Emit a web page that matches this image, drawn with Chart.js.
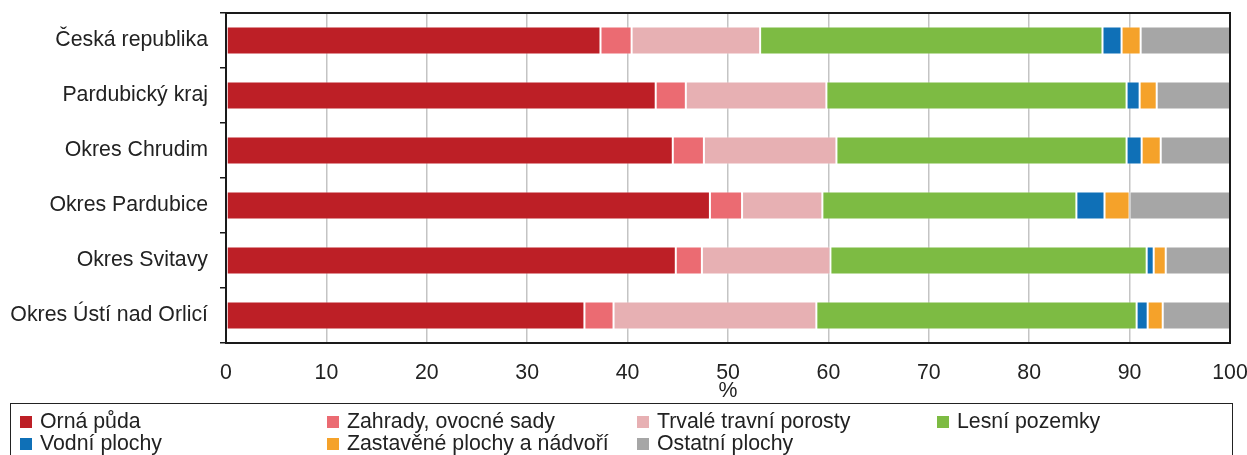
<!DOCTYPE html>
<html><head><meta charset="utf-8">
<script src="https://cdn.jsdelivr.net/npm/chart.js@4/dist/chart.umd.min.js"></script>
<style>
html,body{margin:0;padding:0;background:#fff;}
#wrap{position:relative;width:1247px;height:455px;overflow:hidden;font-family:"Liberation Sans",Arial,sans-serif;}
#c{position:absolute;left:0;top:0;}
#legend{position:absolute;left:10px;top:403px;width:1223px;height:70px;border:1.5px solid #222;box-sizing:border-box;}
.item{position:absolute;font-size:21.3px;color:#222;white-space:nowrap;line-height:22px;}
.sw{display:inline-block;width:12px;height:12px;margin-right:8px;vertical-align:0px;}
</style></head>
<body><div id="wrap"><canvas id="c" width="1247" height="404"></canvas><div id="legend"></div></div>
<script>
const categories = ["Česká republika","Pardubický kraj","Okres Chrudim","Okres Pardubice","Okres Svitavy","Okres Ústí nad Orlicí"];
const seriesNames = ["Orná půda","Zahrady, ovocné sady","Trvalé travní porosty","Lesní pozemky","Vodní plochy","Zastavěné plochy a nádvoří","Ostatní plochy"];
const ornaPuda   = [37.3, 42.8, 44.5, 48.2, 44.8, 35.7];
const zahrady    = [3.1, 3.0, 3.1, 3.2, 2.6, 2.9];
const trvaleTP   = [12.8, 14.0, 13.2, 8.0, 12.8, 20.2];
const lesni      = [34.1, 29.9, 28.9, 25.3, 31.5, 31.9];
const vodni      = [1.9, 1.3, 1.5, 2.8, 0.7, 1.1];
const zastavene  = [1.9, 1.7, 1.9, 2.5, 1.2, 1.5];
const ostatni    = [8.9, 7.3, 6.9, 10.0, 6.4, 6.7];
const xTicks = [0,10,20,30,40,50,60,70,80,90,100];
const colors = ["#BD1F26","#EB6B72","#E7B0B3","#7DBB43","#0F70B7","#F5A22A","#A6A6A6"];
const seriesValues = [ornaPuda, zahrady, trvaleTP, lesni, vodni, zastavene, ostatni];

const FONT = "'Liberation Sans', Arial, sans-serif";
const frame = {
  id:'frame',
  afterDraw(chart){
    const a = chart.chartArea, ctx = chart.ctx;
    ctx.save();
    ctx.strokeStyle = '#1a1a1a';
    ctx.lineWidth = 2;
    ctx.strokeRect(a.left, a.top, a.right - a.left, a.bottom - a.top);
    ctx.restore();
  }
};

new Chart(document.getElementById('c'), {
  type:'bar',
  data:{
    labels: categories,
    datasets: seriesNames.map((n,i)=>({
      label:n, data:seriesValues[i], backgroundColor:colors[i],
      borderColor:'rgba(255,255,255,0.45)', borderWidth:1, borderSkipped:false,
      barPercentage:0.51, categoryPercentage:1
    }))
  },
  options:{
    indexAxis:'y', responsive:false, animation:false,
    layout:{padding:{top:13,right:17,left:0,bottom:0}},
    plugins:{legend:{display:false}, tooltip:{enabled:false}},
    scales:{
      x:{
        stacked:true, min:0, max:100,
        afterBuildTicks(s){ s.ticks = xTicks.map(v=>({value:v})); },
        afterFit(s){ s.height = 61; s.paddingLeft = 0; s.paddingRight = 0; },
        grid:{color:'#c4c4c4', lineWidth:1.5, drawTicks:false},
        border:{display:false},
        ticks:{color:'#222', font:{family:FONT, size:21.3}, padding:17, maxRotation:0},
        title:{display:true, text:'%', color:'#222', font:{family:FONT, size:21.3}, padding:{top:-5,bottom:0}}
      },
      y:{
        stacked:true,
        afterFit(s){ s.width = 226; s.paddingTop = 0; s.paddingBottom = 0; },
        grid:{offset:true, drawOnChartArea:false, color:'#1a1a1a', lineWidth:1.5, tickLength:6},
        border:{display:false},
        ticks:{color:'#222', font:{family:FONT, size:21.3}, padding:12}
      }
    }
  },
  plugins:[frame]
});

const leg = document.getElementById('legend');
const colX = [9, 316, 626, 926];
seriesNames.forEach((n,i)=>{
  const d = document.createElement('div');
  d.className='item';
  d.style.left = colX[i%4]+'px';
  d.style.top = (i<4 ? 6 : 28)+'px';
  d.innerHTML = '<span class="sw" style="background:'+colors[i]+'"></span>'+n;
  leg.appendChild(d);
});
</script></body></html>
